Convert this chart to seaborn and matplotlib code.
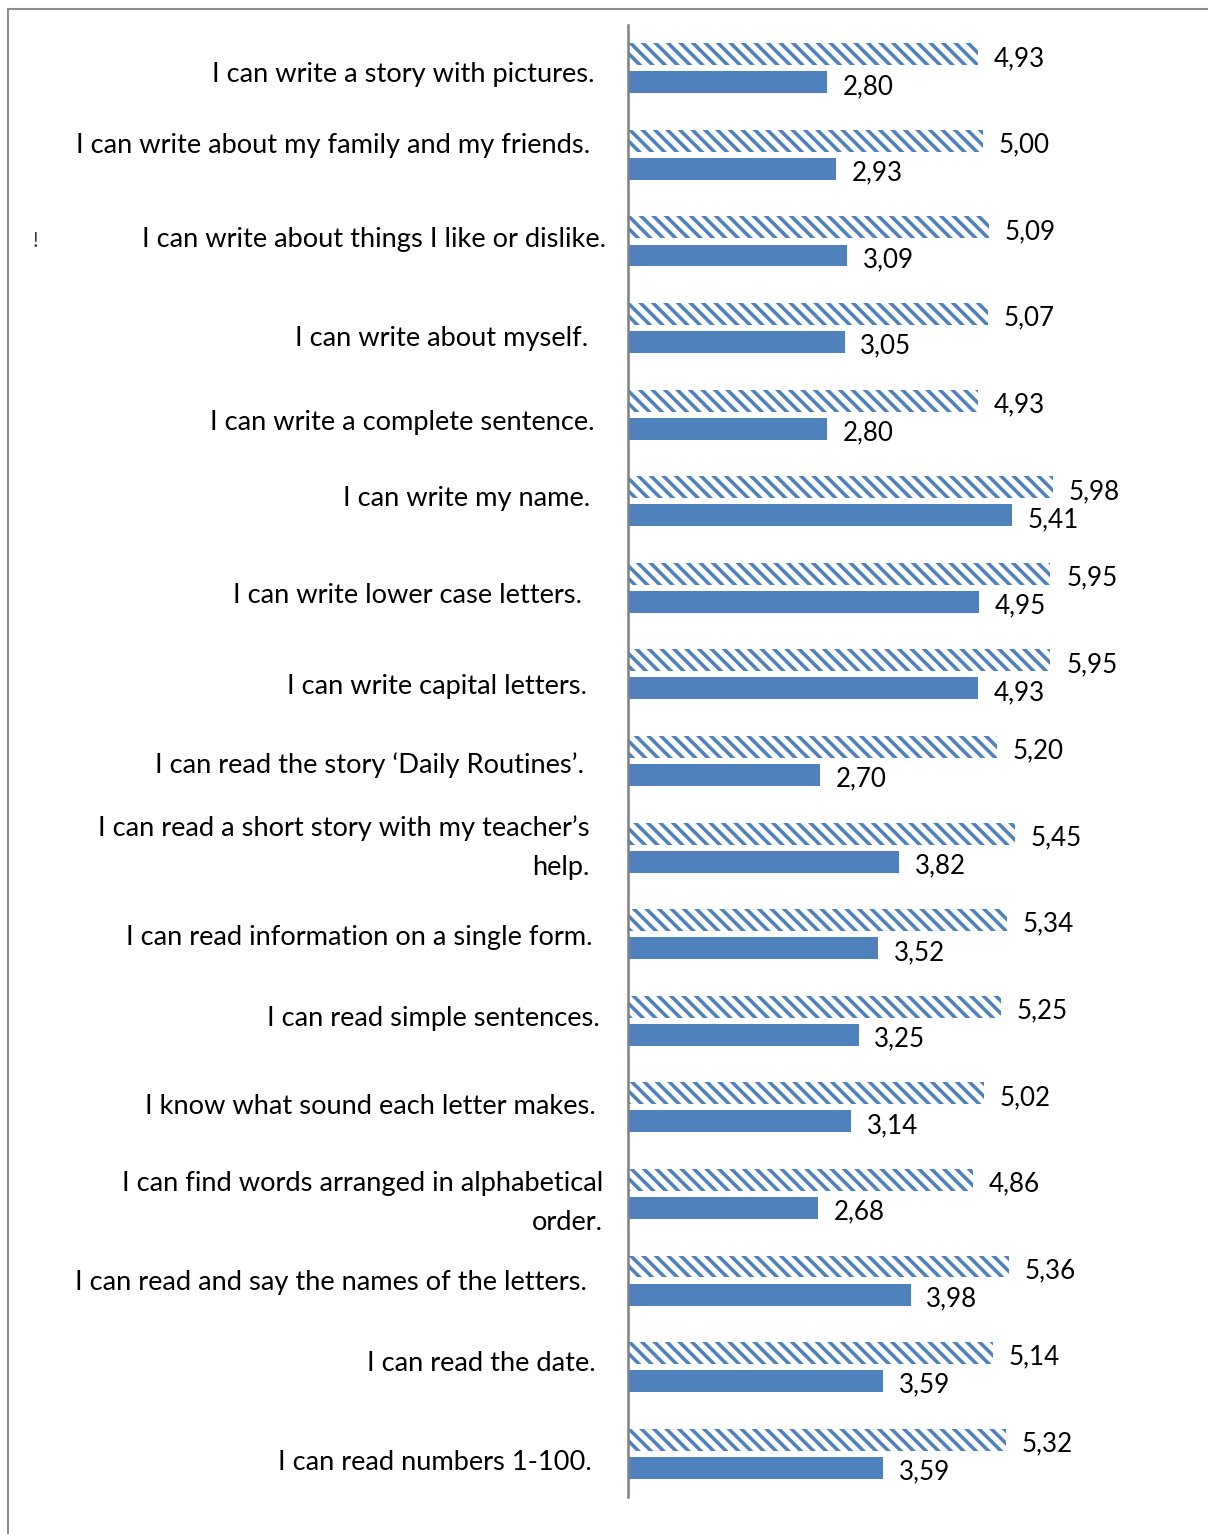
import matplotlib
matplotlib.use("Agg")
import matplotlib.pyplot as plt
from matplotlib.patches import Rectangle
from matplotlib.transforms import blended_transform_factory, offset_copy
import seaborn as sns
import pandas as pd

# Self-assessment statements (top to bottom)
statements = [
    "I can write a story with pictures.",
    "I can write about my family and my friends.",
    "I can write about things I like or dislike.",
    "I can write about myself.",
    "I can write a complete sentence.",
    "I can write my name.",
    "I can write lower case letters.",
    "I can write capital letters.",
    "I can read the story \u2018Daily Routines\u2019.",
    "I can read a short story with my teacher\u2019s\nhelp.",
    "I can read information on a single form.",
    "I can read simple sentences.",
    "I know what sound each letter makes.",
    "I can find words arranged in alphabetical\norder.",
    "I can read and say the names of the letters.",
    "I can read the date.",
    "I can read numbers 1-100.",
]

post_scores = [4.93, 5.00, 5.09, 5.07, 4.93, 5.98, 5.95, 5.95, 5.20, 5.45,
               5.34, 5.25, 5.02, 4.86, 5.36, 5.14, 5.32]
pre_scores = [2.80, 2.93, 3.09, 3.05, 2.80, 5.41, 4.95, 4.93, 2.70, 3.82,
              3.52, 3.25, 3.14, 2.68, 3.98, 3.59, 3.59]

series_names = ["Post", "Pre"]

df = pd.DataFrame({
    "statement": statements * 2,
    "score": post_scores + pre_scores,
    "test": [series_names[0]] * len(statements) + [series_names[1]] * len(statements),
})

BLUE = "#4F81BD"
W, H, DPI = 1208, 1535, 150
AX_LEFT, AX_TOP, AX_BOTTOM = 628, 26, 1498
PX_PER_UNIT = 71.0

# per-label layout nudges (pixels): right edge relative to the axis, vertical shift
label_dx = [-34, -38, -22, -40, -34, -38, -46, -41, -44, -38,
            -36, -28, -32, -25, -41, -32, -36]
label_dy = [5, -10, -3, 9, 7, -4, 7, 11, 3, -1, 2, -3, -2, 8, 1, -5, 8]

sns.set_theme(style="white")
plt.rcParams["font.family"] = ["Lato", "DejaVu Sans"]
plt.rcParams["hatch.linewidth"] = 1.7

fig = plt.figure(figsize=(W / DPI, H / DPI), dpi=DPI)
ax = fig.add_axes([AX_LEFT / W, (H - AX_BOTTOM) / H,
                   (W - AX_LEFT) / W, (AX_BOTTOM - AX_TOP) / H])

sns.barplot(data=df, y="statement", x="score", hue="test", hue_order=series_names,
            order=statements, orient="h", palette=[BLUE, BLUE], saturation=1,
            width=0.648, gap=0.216, legend=False, ax=ax)

# hatched style for the first series
post_container, pre_container = ax.containers[0], ax.containers[1]
for bar in post_container:
    bar.set_facecolor("white")
    bar.set_edgecolor(BLUE)
    bar.set_hatch("\\\\\\\\")
    bar.set_linewidth(0)
for bar in pre_container:
    bar.set_linewidth(0)

fmt = lambda v: f"{v:.2f}".replace(".", ",")
for cont in (post_container, pre_container):
    texts = ax.bar_label(cont, labels=[fmt(b.get_width()) for b in cont],
                         padding=7.5, fontsize=12.5, color="black")
    for t in texts:
        t.xyann = (7.5, -1.5)

ax.set_xlim(0, (W - AX_LEFT) / PX_PER_UNIT)
ax.set_xlabel("")
ax.set_ylabel("")
ax.set_xticks([])
ax.set_yticks(range(len(statements)))
ax.set_yticklabels([])
ax.tick_params(axis="y", length=0)

# category labels, right-aligned to the left of the axis
blend = blended_transform_factory(ax.transAxes, ax.transData)
for i, text in enumerate(statements):
    tr = offset_copy(blend, fig=fig, x=label_dx[i], y=-label_dy[i], units="dots")
    ax.text(0, i, text, transform=tr, ha="right", va="center",
            multialignment="right", fontsize=13.1, color="black",
            linespacing=1.7, clip_on=False)

for side in ("top", "right", "bottom"):
    ax.spines[side].set_visible(False)
ax.spines["left"].set_color("#808080")
ax.spines["left"].set_linewidth(1.2)

# outer frame of the chart area
fig.add_artist(Rectangle((8 / W, -0.1), 1.2, (H - 10) / H + 0.1,
                         transform=fig.transFigure, fill=False,
                         edgecolor="#8c8c8c", linewidth=1.0))
fig.text(35 / W, 1 - 241 / H, "!", fontsize=10, color="#333333",
         ha="center", va="center")

fig.savefig("out.png", dpi=DPI)
